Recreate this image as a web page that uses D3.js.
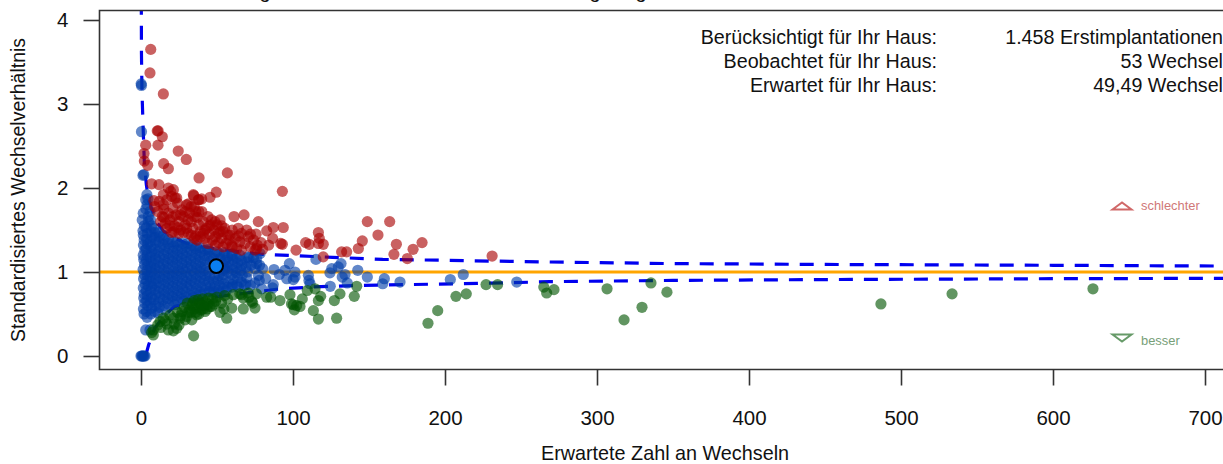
<!DOCTYPE html>
<html lang="de">
<head>
<meta charset="utf-8">
<title>Standardisiertes Wechselverhältnis</title>
<script src="https://cdn.jsdelivr.net/npm/d3@7"></script>
<style>
  html, body { margin: 0; padding: 0; background: #fff; }
  svg { display: block; }
  text { font-family: "Liberation Sans", Arial, sans-serif; fill: #111; }
</style>
</head>
<body>
<div id="chart"></div>
<script>
// Werte: [erwartet, SMR]
const xTicks = [0, 100, 200, 300, 400, 500, 600, 700];
const yTicks = [0, 1, 2, 3, 4];

const upperLimit = [[0.2, 4.23], [0.3, 3.6], [0.6, 3.2], [0.9, 3], [1.5, 2.67], [2.2, 2.3], [3.5, 2.04], [5, 1.85], [10, 1.6], [15, 1.48],
  [20, 1.42], [30, 1.34], [40, 1.3], [56, 1.26], [80, 1.21], [126, 1.175], [159, 1.15], [199, 1.14], [230, 1.13], [265, 1.12],
  [350, 1.1], [450, 1.09], [600, 1.08], [720, 1.07]];
const lowerLimit = [[3, 0], [5, 0.13], [9, 0.33], [15, 0.47], [22, 0.59], [40, 0.68], [60, 0.73], [89, 0.795], [111, 0.82], [142, 0.84],
  [175, 0.85], [208, 0.86], [238, 0.87], [269, 0.885], [350, 0.9], [450, 0.91], [600, 0.92], [720, 0.925]];

const redHouses = [
  [6.4, 3.65], [5.9, 3.37], [14.7, 3.12], [10.7, 2.68], [11.3, 2.68], [14, 2.61], [3.1, 2.51], [11.2, 2.51], [24.5, 2.44], [29.8, 2.34],
  [2, 2.41], [2.2, 2.32], [4.4, 2.27], [14.9, 2.29], [18, 2.23], [38.2, 2.12], [56.8, 2.18], [93, 1.96], [7, 2.05], [11.8, 2.04],
  [18, 2], [21.3, 1.98], [19.5, 1.96], [14.7, 1.92], [34.7, 1.91], [49.5, 1.95], [45.4, 1.89], [39.9, 1.87], [37.7, 1.86], [8.5, 1.85],
  [23.5, 1.88], [31.1, 1.81], [14.7, 1.8], [22.4, 1.88], [34.4, 1.92], [38.2, 1.86], [61.2, 1.66], [67.8, 1.68], [77.2, 1.6], [87, 1.53],
  [82.7, 1.49], [93.6, 1.53], [86.6, 1.4], [92, 1.34], [93, 1.33], [69.5, 1.5], [75.7, 1.45], [64, 1.43], [59.7, 1.32], [68.4, 1.34],
  [76.1, 1.28], [70.6, 1.42], [58.6, 1.44], [54.1, 1.48], [50.9, 1.46], [48.7, 1.6], [46.5, 1.62], [76.5, 1.32], [75, 1.26], [102, 1.26],
  [108.3, 1.35], [110.7, 1.33], [116.7, 1.47], [117.3, 1.4], [116.7, 1.34], [119.9, 1.33], [119.9, 1.18], [132, 1.24], [135.3, 1.24],
  [143, 1.28], [145.6, 1.37], [148.9, 1.6], [155.9, 1.44], [163.6, 1.6], [168, 1.33], [166.4, 1.21], [175.2, 1.16], [179, 1.27],
  [184.9, 1.35], [231, 1.19],
  [9, 1.78], [11, 1.72], [12, 1.84], [14, 1.66], [15, 1.75], [16, 1.58], [17, 1.86], [18, 1.7], [19, 1.62], [20.2, 1.9], [21, 1.76],
  [22, 1.55], [23, 1.68], [24, 1.82], [25, 1.6], [26, 1.5], [27, 1.74], [28, 1.66], [29, 1.56], [30, 1.8], [31, 1.46], [32, 1.7],
  [33, 1.6], [34, 1.52], [35, 1.78], [36, 1.43], [37, 1.65], [38, 1.56], [39, 1.48], [40, 1.72], [41, 1.6], [42, 1.4], [43, 1.52],
  [44, 1.66], [45, 1.45], [46, 1.56], [47, 1.38], [48, 1.5], [49, 1.42], [50, 1.56], [51, 1.35], [52, 1.48], [53, 1.4], [55, 1.52],
  [56, 1.34], [57, 1.44], [58, 1.38], [60, 1.3], [62, 1.4], [63, 1.28], [65, 1.36], [66, 1.26], [20.2, 1.47], [21.5, 1.48], [33, 1.44],
  [41, 1.46], [37, 1.38], [44, 1.34], [49, 1.32], [54, 1.3], [28, 1.47], [24, 1.53], [72, 1.3], [80, 1.27],
  [33, 1.78], [36, 1.72], [15, 1.65], [13, 1.6], [17, 1.52], [19, 1.55], [21, 1.66], [26, 1.68], [29, 1.72], [31, 1.62], [35, 1.66], [38, 1.72],
  [39, 1.42], [42, 1.5], [45, 1.55], [52, 1.62], [53, 1.55], [60, 1.5], [66, 1.46], [74, 1.38], [79, 1.35], [84, 1.32], [64, 1.52], [72, 1.45],
  [25, 1.46], [30, 1.52], [35, 1.4]
];

const greenHouses = [
  [227, 0.85], [234.6, 0.85], [265, 0.82], [266.9, 0.75], [271.7, 0.79], [207.2, 0.71], [214, 0.74], [195.2, 0.54], [188.8, 0.39],
  [141.9, 0.83], [140.3, 0.71], [130.9, 0.74], [127.2, 0.66], [128.7, 0.45], [116.7, 0.44], [113.4, 0.54], [116.7, 0.66], [118.2, 0.71],
  [114.5, 0.8], [109.4, 0.78], [106.1, 0.68], [104.6, 0.59], [100.9, 0.55], [99, 0.62], [98, 0.73], [91.4, 0.66], [82.7, 0.7], [85.3, 0.7],
  [75, 0.57], [73.5, 0.63], [100.2, 0.61], [102.4, 0.6], [486.8, 0.62], [533.6, 0.74], [626.3, 0.8], [317.8, 0.43], [329.6, 0.58],
  [335.5, 0.87], [346, 0.76], [306.6, 0.8],
  [34.6, 0.24], [8.1, 0.25], [8.1, 0.31], [7, 0.28], [18, 0.31], [21.3, 0.3], [23.5, 0.33], [12.5, 0.41], [19, 0.49], [21.3, 0.45],
  [25.7, 0.45], [29, 0.43], [33.4, 0.43], [36.6, 0.49], [42.1, 0.53], [46.5, 0.59], [14.7, 0.45], [53, 0.63], [52, 0.52], [56.4, 0.45],
  [59.7, 0.57], [54.5, 0.56], [67.3, 0.56], [72.8, 0.65], [60.7, 0.73], [66.2, 0.73], [67.3, 0.69], [70.6, 0.75], [45.4, 0.59],
  [28.5, 0.58], [30.5, 0.63], [32, 0.55], [33.5, 0.6], [35, 0.66], [36, 0.52], [37, 0.58], [38.5, 0.63], [39.5, 0.55], [40.5, 0.68],
  [41.5, 0.6], [42.5, 0.65], [43.5, 0.56], [44.5, 0.69], [31, 0.52], [34, 0.63], [37.5, 0.67], [40, 0.6], [27, 0.53], [35, 0.56],
  [65, 0.74], [71, 0.7], [76, 0.74], [57, 0.68], [47, 0.68], [49, 0.65],
  [26, 0.48], [24, 0.52], [30, 0.47], [33, 0.52], [38, 0.5], [41, 0.56], [44, 0.62], [48, 0.62], [50, 0.7], [55, 0.72], [17, 0.38], [13, 0.34],
  [11, 0.37], [25, 0.37], [16, 0.42], [22, 0.38]
];

const blueHouses = [
  [0, 0], [0.5, 0], [1, 0], [1.5, 0], [2, 0], [2.6, 0], [0.1, 3.24], [0.3, 3.22], [0.3, 2.67], [1.8, 2.16], [1.3, 2.15],
  [3.1, 0.31], [5.9, 0.31],
  [2, 0.5], [1.6, 0.56], [2.4, 0.63], [1.8, 0.69], [2.1, 0.74], [1.5, 0.81], [2.6, 0.86], [1.7, 0.92], [2.2, 0.97], [1.4, 1.03],
  [2.3, 1.09], [1.8, 1.15], [1.5, 1.2], [2.5, 1.26], [1.6, 1.32], [2.1, 1.38], [1.5, 1.44], [1.3, 1.49], [2.2, 1.55], [0.8, 1.62], [1.5, 1.7],
  [4, 0.46], [3.6, 0.53], [4.4, 0.6], [3.8, 0.66], [4.2, 0.72], [3.5, 0.78], [4.6, 0.84], [3.7, 0.9], [4.3, 0.96], [3.9, 1.02],
  [4.5, 1.08], [3.6, 1.14], [4.1, 1.2], [3.4, 1.27], [4.4, 1.33], [3.8, 1.39], [4.2, 1.46], [3.5, 1.53], [4.8, 1.6], [4.8, 1.66], [3.2, 1.75],
  [3.1, 1.86], [3.9, 1.92], [4.6, 1.87], [4, 1.8],
  [6.5, 0.5], [7, 0.57], [6.2, 0.64], [6.9, 0.7], [6.3, 0.77], [7.2, 0.83], [6.6, 0.89], [6, 0.95], [7.1, 1], [6.4, 1.06], [6.8, 1.12],
  [6.1, 1.18], [7, 1.24], [6.5, 1.3], [6.2, 1.36], [7.3, 1.42], [6.6, 1.48], [7, 1.55], [6.3, 1.62], [6, 1.72],
  [9, 0.53], [9.6, 0.6], [8.7, 0.67], [9.4, 0.73], [9.1, 0.79], [8.6, 0.86], [9.7, 0.92], [9, 0.98], [9.3, 1.04], [8.8, 1.1], [9.5, 1.16],
  [9.1, 1.22], [8.7, 1.28], [9.6, 1.35], [9, 1.41], [9.2, 1.47], [8.5, 1.52],
  [12, 0.58], [11.5, 0.64], [12.4, 0.7], [11.7, 0.76], [12.2, 0.82], [11.4, 0.88], [12.5, 0.94], [11.9, 1], [12.3, 1.06], [11.6, 1.12],
  [12.1, 1.18], [11.5, 1.24], [12.6, 1.3], [11.8, 1.36], [12.2, 1.42], [11.6, 1.47],
  [15, 0.6], [14.6, 0.67], [15.4, 0.73], [14.8, 0.79], [15.2, 0.85], [14.5, 0.91], [15.6, 0.97], [15, 1.03], [14.7, 1.09], [15.3, 1.15],
  [14.9, 1.21], [15.5, 1.27], [14.6, 1.33], [15.2, 1.39], [14.7, 1.44],
  [18, 0.62], [17.5, 0.68], [18.4, 0.74], [17.8, 0.8], [18.2, 0.86], [17.6, 0.92], [18.6, 0.98], [18, 1.04], [17.4, 1.1], [18.3, 1.16],
  [17.7, 1.22], [18.5, 1.28], [17.9, 1.34], [18.1, 1.39],
  [21, 0.65], [20.6, 0.71], [21.5, 0.77], [20.8, 0.83], [21.2, 0.89], [20.5, 0.95], [21.6, 1.01], [21, 1.07], [20.7, 1.13], [21.3, 1.19],
  [20.9, 1.25], [21.5, 1.31], [20.6, 1.36],
  [24, 0.66], [23.6, 0.72], [24.4, 0.78], [23.8, 0.84], [24.2, 0.9], [23.5, 0.96], [24.6, 1.02], [24, 1.08], [23.7, 1.14], [24.3, 1.2],
  [23.9, 1.26], [24.5, 1.32], [23.6, 1.36],
  [27, 0.68], [26.5, 0.74], [27.4, 0.8], [26.8, 0.86], [27.2, 0.92], [26.6, 0.98], [27.5, 1.04], [27, 1.1], [26.7, 1.16], [27.3, 1.22],
  [26.9, 1.28], [27.4, 1.34],
  [30, 0.7], [29.6, 0.76], [30.4, 0.82], [29.8, 0.88], [30.2, 0.94], [29.5, 1], [30.6, 1.06], [30, 1.12], [29.7, 1.18], [30.3, 1.24],
  [29.9, 1.3], [30.5, 1.34],
  [33, 0.72], [33.5, 0.78], [32.6, 0.84], [33.2, 0.9], [32.8, 0.96], [33.6, 1.02], [33, 1.08], [32.7, 1.14], [33.4, 1.2], [32.9, 1.26], [33.3, 1.32],
  [36, 0.74], [36.5, 0.8], [35.7, 0.86], [36.2, 0.92], [35.6, 0.98], [36.6, 1.04], [36, 1.1], [35.8, 1.16], [36.3, 1.22], [36, 1.28], [36.5, 1.31],
  [39, 0.76], [39.6, 0.82], [38.7, 0.88], [39.3, 0.94], [38.8, 1], [39.5, 1.06], [39, 1.12], [38.6, 1.18], [39.4, 1.24], [39, 1.29],
  [42, 0.78], [42.6, 0.84], [41.7, 0.9], [42.3, 0.96], [41.6, 1.02], [42.5, 1.08], [42, 1.14], [41.8, 1.2], [42.4, 1.26],
  [45, 0.77], [45.6, 0.83], [44.7, 0.89], [45.3, 0.95], [44.8, 1.01], [45.5, 1.13], [45, 1.19], [44.7, 1.25],
  [48, 0.77], [48.6, 0.83], [47.8, 0.89], [48.3, 0.95], [47.7, 1.16], [48.4, 1.22],
  [51, 0.78], [51.6, 0.84], [50.7, 0.9], [51.3, 0.96], [54, 1.02], [53.5, 1.1], [52, 1.16], [51.5, 1.22],
  [54, 0.8], [54.5, 0.86], [53.6, 0.92], [54.2, 0.97], [55, 1.04], [55.5, 1.14], [54.6, 1.2],
  [57, 0.82], [57.6, 0.88], [57.3, 1], [56.6, 1.06], [57.5, 1.12], [57, 1.18],
  [60, 0.85], [60.6, 0.91], [59.7, 0.97], [60.3, 1.03], [60, 1.09], [60.5, 1.15], [59.8, 1.2],
  [63, 0.85], [63.6, 0.93], [62.8, 0.99], [63.2, 1.05], [63.5, 1.11], [63, 1.17],
  [66, 0.88], [66.6, 0.96], [65.7, 1.02], [66.3, 1.08], [66, 1.14],
  [69, 0.85], [69.5, 0.93], [70, 1], [69.2, 1.06], [69.7, 1.12], [71, 1.17],
  [72.4, 1.08], [75, 0.87], [76.1, 1.1], [77.2, 0.96], [75, 1.04], [78.3, 1.22], [77.8, 0.9],
  [79.4, 0.8], [80, 1.04], [87.5, 1.03], [87, 0.85], [86.6, 0.81], [91, 0.97], [94.7, 1.02], [95.9, 0.92], [97.6, 1.1], [101.3, 1],
  [101.3, 0.94], [100.2, 0.91], [115.1, 1.15], [110.1, 0.96], [110.5, 0.9], [111.2, 0.86], [124.3, 0.99], [124.5, 0.83], [125.5, 1.04],
  [129.8, 1.06], [131.6, 1.1], [132.4, 0.94], [134.2, 0.97], [135.7, 0.87], [142.6, 1.02], [148.9, 0.94], [159, 0.86], [160.1, 0.92],
  [170.4, 0.88], [203.5, 0.91], [212, 0.97], [247.2, 0.88],
  [44, 1.27], [50, 1.24], [55, 1.23], [60, 1.22], [65, 1.2], [70, 1.18], [74, 1.17], [68, 0.84], [72, 0.84], [76, 1.16], [82, 0.92],
  [78, 1.08], [60, 0.82], [64, 0.82], [46, 0.76], [52, 0.75], [56, 0.77], [40, 0.73], [34, 0.69], [28, 0.65],
  [22, 0.61], [16, 0.55], [11, 0.51]
];

const infoLabels = ['Berücksichtigt für Ihr Haus:', 'Beobachtet für Ihr Haus:', 'Erwartet für Ihr Haus:'];
const infoValues = ['1.458 Erstimplantationen', '53 Wechsel', '49,49 Wechsel'];
const ownHouse = [49.49, 1.07];
// vom Titel ist nur noch die Unterlänge dreier g zu sehen
const titleFragmentsPx = [265, 595, 641];

const width = 1223, height = 464;
const frame = { left: 99.5, top: 10.5, right: 1240, bottom: 369.5 };

const svg = d3.select('#chart').append('svg')
  .attr('width', width)
  .attr('height', height)
  .attr('viewBox', `0 0 ${width} ${height}`);

const x = d3.scaleLinear().domain([0, 700]).range([141, 1205]);
const y = d3.scaleLinear().domain([0, 4]).range([356, 20]);

svg.append('clipPath').attr('id', 'plot-clip')
  .append('rect')
  .attr('x', frame.left).attr('y', frame.top)
  .attr('width', frame.right - frame.left).attr('height', frame.bottom - frame.top);

const plot = svg.append('g').attr('clip-path', 'url(#plot-clip)');

// Referenzlinie
plot.append('line')
  .attr('x1', frame.left).attr('x2', frame.right)
  .attr('y1', y(1)).attr('y2', y(1))
  .attr('stroke', '#ffa500')
  .attr('stroke-width', 3);

// Kontrollgrenzen
const limitLine = d3.line().x(d => x(d[0])).y(d => y(d[1]));
[upperLimit, lowerLimit].forEach(limit => {
  plot.append('path')
    .attr('d', limitLine(limit))
    .attr('fill', 'none')
    .attr('stroke', '#0000f0')
    .attr('stroke-width', 3.2)
    .attr('stroke-dasharray', '14 11');
});

// Häuser
[[blueHouses, '#003da8'], [redHouses, '#a80000'], [greenHouses, '#005400']].forEach(([rows, color]) => {
  plot.append('g').selectAll('circle')
    .data(rows)
    .enter()
    .append('circle')
    .attr('cx', d => x(d[0]))
    .attr('cy', d => y(d[1]))
    .attr('r', 5.6)
    .attr('fill', color)
    .attr('fill-opacity', 0.62);
});

// eigenes Haus
plot.append('circle')
  .attr('cx', x(ownHouse[0]))
  .attr('cy', y(ownHouse[1]))
  .attr('r', 6.8)
  .attr('fill', '#0a7ef0')
  .attr('stroke', '#000')
  .attr('stroke-width', 2);

// Rahmen und Achsen
svg.append('path')
  .attr('d', `M${frame.right},${frame.top}H${frame.left}V${frame.bottom}H${frame.right}`)
  .attr('fill', 'none')
  .attr('stroke', '#333')
  .attr('stroke-width', 1.6);

const xAxis = svg.append('g')
  .attr('transform', `translate(0,${frame.bottom})`)
  .call(d3.axisBottom(x).tickValues(xTicks).tickSize(16).tickPadding(25).tickFormat(d3.format('d')));
const yAxis = svg.append('g')
  .attr('transform', `translate(${frame.left},0)`)
  .call(d3.axisLeft(y).tickValues(yTicks).tickSize(16).tickPadding(15).tickFormat(d3.format('d')));
[xAxis, yAxis].forEach(axis => {
  axis.attr('font-family', null).attr('font-size', null);
  axis.select('.domain').remove();
  axis.selectAll('line').attr('stroke', '#333').attr('stroke-width', 1.6);
  axis.selectAll('text').attr('font-size', 20.5).attr('fill', '#111');
});

svg.append('text')
  .attr('x', 665).attr('y', 459.5)
  .attr('text-anchor', 'middle')
  .attr('font-size', 19.8)
  .text('Erwartete Zahl an Wechseln');
svg.append('text')
  .attr('transform', 'translate(25,190) rotate(-90)')
  .attr('text-anchor', 'middle')
  .attr('font-size', 19.5)
  .text('Standardisiertes Wechselverhältnis');

// Kennzahlen oben rechts
infoLabels.forEach((label, i) => {
  svg.append('text')
    .attr('x', 937).attr('y', 44 + i * 24)
    .attr('text-anchor', 'end')
    .attr('font-size', 19.7)
    .text(label);
  svg.append('text')
    .attr('x', 1223).attr('y', 44 + i * 24)
    .attr('text-anchor', 'end')
    .attr('font-size', 19.7)
    .text(infoValues[i]);
});

// Legende
const triangle = d3.line();
svg.append('path')
  .attr('d', triangle([[1112.5, 209.5], [1122, 202.5], [1131.5, 209.5]]) + 'Z')
  .attr('fill', 'none').attr('stroke', '#d06868').attr('stroke-width', 2);
svg.append('text')
  .attr('x', 1141).attr('y', 210)
  .attr('font-size', 12.9)
  .style('fill', '#d07878')
  .text('schlechter');
svg.append('path')
  .attr('d', triangle([[1112.5, 334.5], [1122, 341.5], [1131.5, 334.5]]) + 'Z')
  .attr('fill', 'none').attr('stroke', '#669a68').attr('stroke-width', 2);
svg.append('text')
  .attr('x', 1141).attr('y', 344.5)
  .attr('font-size', 12.9)
  .style('fill', '#77a078')
  .text('besser');

// abgeschnittener Titel
svg.append('g').selectAll('text')
  .data(titleFragmentsPx)
  .enter()
  .append('text')
  .attr('x', d => d)
  .attr('y', -2)
  .attr('text-anchor', 'middle')
  .attr('font-size', 20)
  .text('g');
</script>
</body>
</html>
